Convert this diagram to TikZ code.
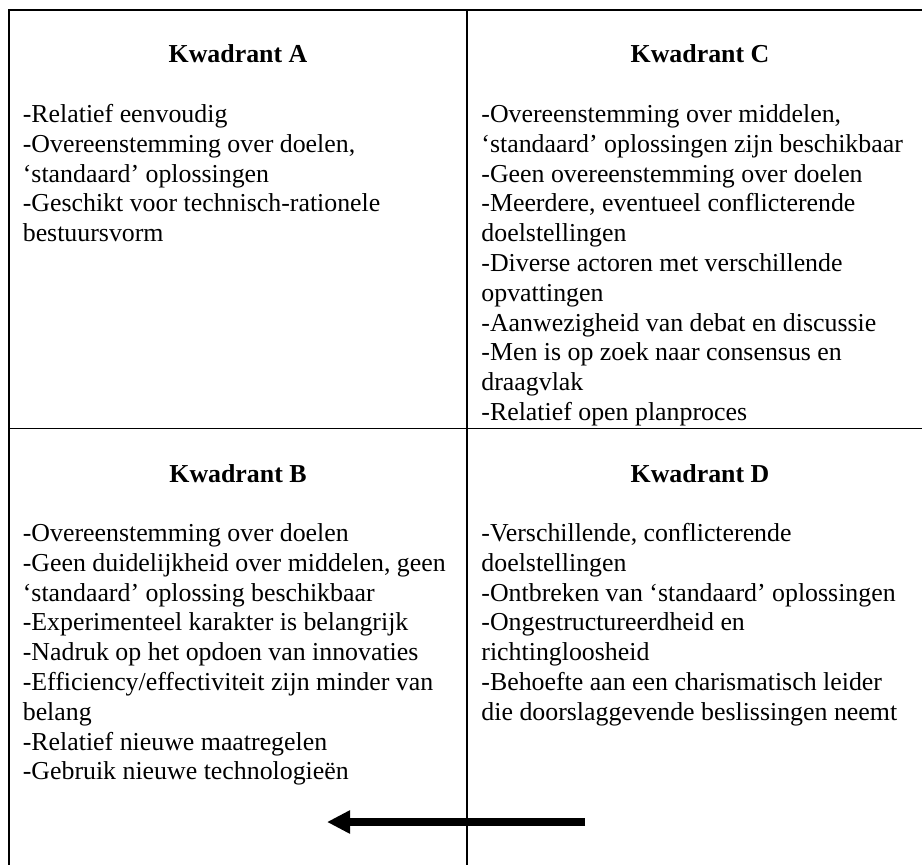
\documentclass[tikz,border=0pt]{standalone}
\usepackage{fontspec}
\setmainfont{Liberation Serif}
\usetikzlibrary{arrows.meta}
\begin{document}
\begin{tikzpicture}[x=0.4545pt,y=-0.4545pt,
  rule/.style={line width=0.9pt},
  head/.style={font=\fontsize{11.75}{14}\selectfont\bfseries, inner sep=0pt, anchor=base},
  item/.style={font=\fontsize{11.75}{14}\selectfont, inner sep=0pt, anchor=base west},
  bigarrow/.style={line width=3.2pt, -{Triangle[length=10.5pt,width=10pt]}}]
\useasboundingbox (0,0) rectangle (922,865);
% frame lines
\draw[rule, line join=miter] (9,865) -- (9,10) -- (922,10);
\draw[rule] (467,10) -- (467,865);
\draw[rule] (9,428.5) -- (922,428.5);
% headings
\node[head] (hA) at (238,63) {Kwadrant A};
\node[head] (hC) at (700,63) {Kwadrant C};
\node[head] (hB) at (238,482) {Kwadrant B};
\node[head] (hD) at (700,482) {Kwadrant D};
% quadrant A
\foreach \t [count=\i from 0] in {
  -Relatief eenvoudig,
  {-Overeenstemming over doelen,},
  ‘standaard’ oplossingen,
  -Geschikt voor technisch-rationele,
  bestuursvorm}
  \node[item] (a\i) at (22.4,122.5+29.8*\i) {\t};
% quadrant C
\foreach \t [count=\i from 0] in {
  {-Overeenstemming over middelen,},
  ‘standaard’ oplossingen zijn beschikbaar,
  -Geen overeenstemming over doelen,
  {-Meerdere, eventueel conflicterende},
  doelstellingen,
  -Diverse actoren met verschillende,
  opvattingen,
  -Aanwezigheid van debat en discussie,
  -Men is op zoek naar consensus en,
  draagvlak,
  -Relatief open planproces}
  \node[item] (c\i) at (481,122.5+29.8*\i) {\t};
% quadrant B
\foreach \t [count=\i from 0] in {
  -Overeenstemming over doelen,
  {-Geen duidelijkheid over middelen, geen},
  ‘standaard’ oplossing beschikbaar,
  -Experimenteel karakter is belangrijk,
  -Nadruk op het opdoen van innovaties,
  -Efficiency/effectiviteit zijn minder van,
  belang,
  -Relatief nieuwe maatregelen,
  -Gebruik nieuwe technologieën}
  \node[item] (b\i) at (22.4,541.5+29.8*\i) {\t};
% quadrant D
\foreach \t [count=\i from 0] in {
  {-Verschillende, conflicterende},
  doelstellingen,
  -Ontbreken van ‘standaard’ oplossingen,
  -Ongestructureerdheid en,
  richtingloosheid,
  -Behoefte aan een charismatisch leider,
  die doorslaggevende beslissingen neemt}
  \node[item] (d\i) at (481,541.5+29.8*\i) {\t};
% arrow
\coordinate (arrStart) at (585,822);
\coordinate (arrEnd) at (327,822);
\draw[bigarrow] (arrStart) -- (arrEnd);
\end{tikzpicture}
\end{document}
